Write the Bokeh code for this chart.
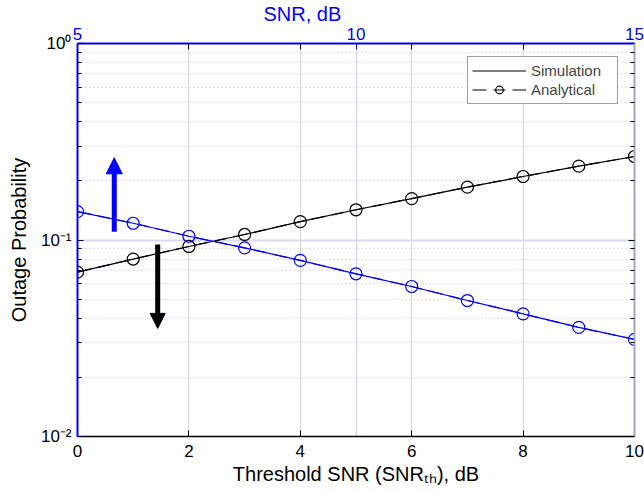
from bokeh.plotting import figure
from bokeh.models import (Range1d, LinearAxis, LogAxis, FixedTicker, CustomJSTickFormatter,
                          Legend, LegendItem, Arrow, NormalHead, Grid, Title)
from bokeh.embed import file_html
from bokeh.resources import INLINE

# ---------------- data ----------------
snr_th = [0, 1, 2, 3, 4, 5, 6, 7, 8, 9, 10]
outage_black = [0.0686, 0.0800, 0.0927, 0.1067, 0.1240, 0.1425, 0.1625, 0.1858, 0.2104, 0.2377, 0.2660]
outage_blue = [0.1395, 0.1217, 0.1045, 0.0912, 0.0787, 0.0673, 0.0580, 0.0492, 0.0421, 0.0359, 0.0312]

x_ticks = [0, 2, 4, 6, 8, 10]
top_ticks = [5, 10, 15]
top_minor_ticks = [7, 9, 11, 13]
y_ticks = [0.01, 0.1, 1]
y_minor_ticks = [0.02, 0.03, 0.04, 0.05, 0.06, 0.07, 0.08, 0.09,
                 0.2, 0.3, 0.4, 0.5, 0.6, 0.7, 0.8, 0.9]

# arrows (x, y_start, y_end)
arrow_blue = [0.66, 0.110, 0.262]
arrow_black = [1.44, 0.0948, 0.0355]

FONT = "Liberation Sans"
BLUE = "#0000ff"

p = figure(width=644, height=491, y_axis_type="log",
           x_range=Range1d(0, 10), y_range=Range1d(0.01, 1),
           output_backend="svg", toolbar_location=None,
           min_border_left=77, min_border_right=10, min_border_top=43, min_border_bottom=55)
p.outline_line_color = None
p.background_fill_color = "white"

sup_fmt = CustomJSTickFormatter(code="""
const e = Math.round(Math.log10(tick));
const m = {'0':'\u2070','1':'\u00b9','2':'\u00b2','-':'\u207b'};
return '10' + String(e).split('').map(c => m[c]).join('');
""")

# left axis
ya = p.yaxis[0]
ya.ticker = FixedTicker(ticks=y_ticks, minor_ticks=y_minor_ticks)
ya.formatter = sup_fmt
ya.axis_line_color = BLUE
ya.axis_line_width = 2
ya.major_tick_in = 6
ya.major_tick_out = 0
ya.minor_tick_in = 4
ya.minor_tick_out = 0
ya.major_tick_line_color = "#000040"
ya.minor_tick_line_color = "#000040"
ya.major_label_text_font = FONT
ya.major_label_text_font_size = "17px"
ya.major_label_text_color = "black"
ya.major_label_standoff = 6
ya.axis_label = "Outage Probability"
ya.axis_label_text_font = FONT
ya.axis_label_text_font_size = "20px"
ya.axis_label_text_font_style = "normal"
ya.axis_label_text_color = "black"
ya.axis_label_standoff = 8

# bottom axis
xa = p.xaxis[0]
xa.ticker = FixedTicker(ticks=x_ticks)
xa.axis_line_color = "black"
xa.axis_line_width = 1.5
xa.major_tick_in = 6
xa.major_tick_out = 0
xa.minor_tick_line_color = None
xa.major_tick_line_color = "black"
xa.major_label_text_font = FONT
xa.major_label_text_font_size = "17px"
xa.major_label_text_color = "black"
xa.major_label_standoff = 8
xa.axis_label = "Threshold SNR (SNR\u209c\u2095), dB"
xa.axis_label_text_font = FONT
xa.axis_label_text_font_size = "20px"
xa.axis_label_text_font_style = "normal"
xa.axis_label_text_color = "black"
xa.axis_label_standoff = 3

# top axis
p.extra_x_ranges = {"top": Range1d(5, 15)}
ta = LinearAxis(x_range_name="top", ticker=FixedTicker(ticks=top_ticks, minor_ticks=top_minor_ticks))
ta.axis_line_color = BLUE
ta.axis_line_width = 2
ta.major_tick_in = 6
ta.major_tick_out = 0
ta.major_tick_line_color = BLUE
ta.minor_tick_in = 6
ta.minor_tick_out = 0
ta.minor_tick_line_color = "black"
ta.major_label_text_font = FONT
ta.major_label_text_font_size = "17px"
ta.major_label_text_color = BLUE
ta.major_label_standoff = 4
p.add_layout(ta, "above")

top_title = Title(text="SNR, dB", align="left", offset=186, text_color=BLUE,
                  text_font=FONT, text_font_size="20px", text_font_style="normal",
                  standoff=0)
p.add_layout(top_title, "above")

# right axis
ra = LogAxis(ticker=FixedTicker(ticks=y_ticks, minor_ticks=y_minor_ticks),
             formatter=CustomJSTickFormatter(code="return '';"))
ra.axis_line_color = "#a4a4c4"
ra.axis_line_width = 2
ra.major_tick_in = 6
ra.major_tick_out = 0
ra.minor_tick_in = 4
ra.minor_tick_out = 0
ra.major_tick_line_color = "black"
ra.minor_tick_line_color = "black"
ra.major_label_text_font_size = "1px"
p.add_layout(ra, "right")

# grids
p.xgrid.ticker = FixedTicker(ticks=x_ticks)
p.xgrid.grid_line_color = "#d6d6d6"
p.xgrid.grid_line_width = 1
p.ygrid.ticker = FixedTicker(ticks=y_ticks, minor_ticks=y_minor_ticks)
p.ygrid.grid_line_color = "#dadaf0"
p.ygrid.grid_line_width = 2
p.ygrid.minor_grid_line_color = "#bcbce8"
p.ygrid.minor_grid_line_dash = "1 3"
p.ygrid.minor_grid_line_width = 1
top_grid = Grid(dimension=0, x_range_name="top", ticker=FixedTicker(ticks=top_ticks),
                grid_line_color="#cfcff4", grid_line_width=1)
p.add_layout(top_grid)

# series
DASH = "14 7 12 7"
sim_black = p.line(snr_th, outage_black, line_color="black", line_width=1.2)
ana_black_l = p.line(snr_th, outage_black, line_color="black", line_width=1.2, line_dash=DASH)
ana_black_m = p.scatter(snr_th, outage_black, marker="circle", size=12, fill_color=None,
                        line_color="black", line_width=1.2)
sim_blue = p.line(snr_th, outage_blue, line_color=BLUE, line_width=1.2)
ana_blue_l = p.line(snr_th, outage_blue, line_color=BLUE, line_width=1.2, line_dash=DASH)
ana_blue_m = p.scatter(snr_th, outage_blue, marker="circle", size=12, fill_color=None,
                       line_color=BLUE, line_width=1.2)

# arrows
p.add_layout(Arrow(end=NormalHead(size=16, fill_color=BLUE, line_color=BLUE),
                   x_start=arrow_blue[0], y_start=arrow_blue[1],
                   x_end=arrow_blue[0], y_end=arrow_blue[2],
                   line_color=BLUE, line_width=5))
p.add_layout(Arrow(end=NormalHead(size=15, fill_color="black", line_color="black"),
                   x_start=arrow_black[0], y_start=arrow_black[1],
                   x_end=arrow_black[0], y_end=arrow_black[2],
                   line_color="black", line_width=5))

# legend
legend = Legend(items=[LegendItem(label="Simulation", renderers=[sim_black]),
                       LegendItem(label="Analytical", renderers=[ana_black_l, ana_black_m])],
                location=(390, 332))
legend.label_text_font = FONT
legend.label_text_font_size = "15px"
legend.glyph_width = 54
legend.glyph_height = 19
legend.label_height = 19
legend.label_width = 82
legend.label_standoff = 5
legend.spacing = 0
legend.padding = 4
legend.margin = 0
legend.border_line_color = "#404040"
legend.border_line_width = 1
legend.background_fill_color = "white"
legend.background_fill_alpha = 1
p.add_layout(legend, "center")

open("out.html", "w").write(file_html(p, INLINE))
